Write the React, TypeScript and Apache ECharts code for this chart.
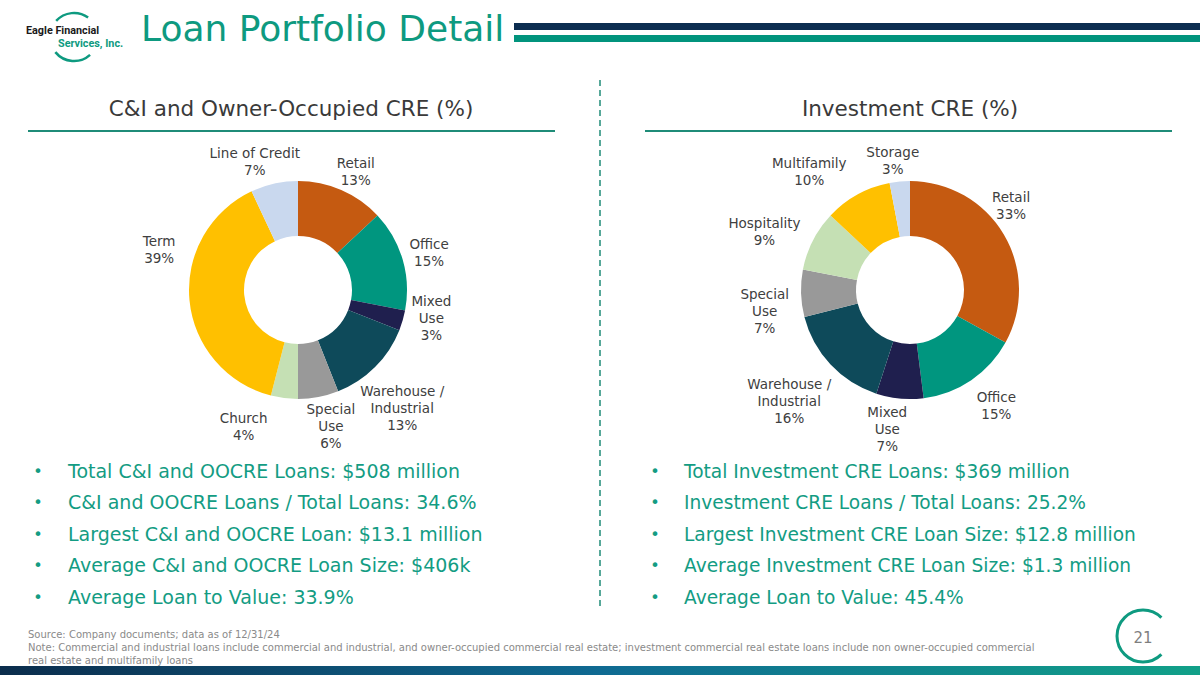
import React, { useEffect, useRef } from "react";
import * as echarts from "echarts";

const ciCategories = ["Retail", "Office", "Mixed\nUse", "Warehouse /\nIndustrial", "Special\nUse", "Church", "Term", "Line of Credit"];
const ciValues = [13, 15, 3, 13, 6, 4, 39, 7];
const creCategories = ["Retail", "Office", "Mixed\nUse", "Warehouse /\nIndustrial", "Special\nUse", "Hospitality", "Multifamily", "Storage"];
const creValues = [33, 15, 7, 16, 7, 9, 10, 3];

const ciColors = ["#C55A11", "#00967F", "#1F1F4E", "#0E4A5A", "#999999", "#C5E0B4", "#FFC000", "#C9D8EE"];
const creColors = ["#C55A11", "#00967F", "#1F1F4E", "#0E4A5A", "#999999", "#C5E0B4", "#FFC000", "#C9D8EE"];

const ciTitle = "C&I and Owner-Occupied CRE (%)";
const creTitle = "Investment CRE (%)";
const ciBullets = [
  "Total C&I and OOCRE Loans: $508 million",
  "C&I and OOCRE Loans / Total Loans: 34.6%",
  "Largest C&I and OOCRE Loan: $13.1 million",
  "Average C&I and OOCRE Loan Size: $406k",
  "Average Loan to Value: 33.9%",
];
const creBullets = [
  "Total Investment CRE Loans: $369 million",
  "Investment CRE Loans / Total Loans: 25.2%",
  "Largest Investment CRE Loan Size: $12.8 million",
  "Average Investment CRE Loan Size: $1.3 million",
  "Average Loan to Value: 45.4%",
];
const footnotes = [
  "Source: Company documents; data as of 12/31/24",
  "Note: Commercial and industrial loans include commercial and industrial, and owner-occupied commercial real estate; investment commercial real estate loans include non owner-occupied commercial",
  "real estate and multifamily loans",
];

// label placement nudges (layout only, in px), matching the slide's hand-placed labels
const ciLabelNudge = [[-12, -13], [-4, -5], [-2, -4], [-24, 37], [-18, 23], [-11, 22], [-3, -51], [32, -16]];
const creLabelNudge = [[-22, -26], [-3, 20], [13, 25], [10, 32], [-1, 17], [-2, -6], [-3, -18], [25, -15]];

const FONT = "'DejaVu Sans', 'Noto Sans', sans-serif";
const TEAL = "#0E9A80";
const TEXT_TEAL = "#139C83";

function labelFormatter(p: any) {
  const lines = String(p.name).split("\n").concat([p.value + "%"]);
  return lines.map((l) => "{c|" + l + "}").join("\n");
}

function makePie(data: string[], values: number[], colors: string[], center: number[], nudge: number[][]) {
  return {
    type: "pie",
    center,
    radius: [54, 109],
    startAngle: 90,
    clockwise: true,
    avoidLabelOverlap: false,
    data: data.map((n, i) => ({ name: n, value: values[i], itemStyle: { color: colors[i] } })),
    itemStyle: { borderWidth: 0 },
    label: {
      show: true,
      position: "outside",
      formatter: labelFormatter,
      rich: {
        c: { align: "center", fontSize: 13.5, lineHeight: 17, color: "#404040", fontFamily: FONT },
      },
    },
    labelLine: { show: false, length: 6, length2: 0 },
    labelLayout: (p: any) => ({ dx: nudge[p.dataIndex][0], dy: nudge[p.dataIndex][1], hideOverlap: false }),
    emphasis: { disabled: true },
  };
}

export default function App() {
  const ref = useRef<HTMLDivElement>(null);
  useEffect(() => {
    if (!ref.current) return;
    const chart = echarts.init(ref.current, null, { renderer: "svg" });
    const graphics: any[] = [];
    // header logo
    graphics.push({ type: "arc", shape: { cx: 74, cy: 37, r: 24, startAngle: (-138 * Math.PI) / 180, endAngle: (-54 * Math.PI) / 180, clockwise: true }, style: { stroke: TEAL, lineWidth: 2.5, fill: "none" } });
    graphics.push({ type: "arc", shape: { cx: 74, cy: 37, r: 24, startAngle: (48 * Math.PI) / 180, endAngle: (141 * Math.PI) / 180, clockwise: true }, style: { stroke: TEAL, lineWidth: 2.5, fill: "none" } });
    graphics.push({ type: "text", x: 26, y: 30.5, style: { text: "Eagle Financial", font: "bold 10.8px Roboto, sans-serif", fill: "#1a1a1a", verticalAlign: "middle" } });
    graphics.push({ type: "text", x: 58, y: 43, style: { text: "Services, Inc.", font: "bold 10.8px Roboto, sans-serif", fill: TEAL, verticalAlign: "middle" } });
    graphics.push({ type: "text", left: 141, top: 10, style: { text: "Loan Portfolio Detail", font: "36px " + FONT, fill: TEAL } });
    graphics.push({ type: "rect", shape: { x: 514, y: 23, width: 690, height: 7 }, style: { fill: "#0C2D50" } });
    graphics.push({ type: "rect", shape: { x: 514, y: 35, width: 690, height: 7 }, style: { fill: "#01947D" } });
    // section titles
    graphics.push({ type: "text", x: 291, y: 108, style: { text: ciTitle, font: "21.5px " + FONT, fill: "#3a3a3a", align: "center", verticalAlign: "middle" } });
    graphics.push({ type: "text", x: 910, y: 108, style: { text: creTitle, font: "21.5px " + FONT, fill: "#3a3a3a", align: "center", verticalAlign: "middle" } });
    graphics.push({ type: "line", shape: { x1: 28, y1: 131, x2: 555, y2: 131 }, style: { stroke: "#1F8C78", lineWidth: 2 } });
    graphics.push({ type: "line", shape: { x1: 645, y1: 131, x2: 1172, y2: 131 }, style: { stroke: "#1F8C78", lineWidth: 2 } });
    // dashed divider
    graphics.push({ type: "line", shape: { x1: 600, y1: 80, x2: 600, y2: 607 }, style: { stroke: "#1F8C78", lineWidth: 1.5, lineDash: [6, 4] } });
    // bullets
    const rowY = [471, 502, 534, 565, 597];
    ciBullets.forEach((t, i) => {
      graphics.push({ type: "text", x: 38, y: rowY[i], style: { text: "•", font: "16px " + FONT, fill: TEXT_TEAL, align: "center", verticalAlign: "middle" } });
      graphics.push({ type: "text", x: 68, y: rowY[i], style: { text: t, font: "19px " + FONT, fill: TEXT_TEAL, verticalAlign: "middle" } });
    });
    creBullets.forEach((t, i) => {
      graphics.push({ type: "text", x: 655, y: rowY[i], style: { text: "•", font: "16px " + FONT, fill: TEXT_TEAL, align: "center", verticalAlign: "middle" } });
      graphics.push({ type: "text", x: 684, y: rowY[i], style: { text: t, font: "18.6px " + FONT, fill: TEXT_TEAL, verticalAlign: "middle" } });
    });
    // footnotes
    const fy = [634, 647, 660];
    footnotes.forEach((t, i) => {
      graphics.push({ type: "text", x: 28, y: fy[i], style: { text: t, font: "10px " + FONT, fill: "#8a8a8a", verticalAlign: "middle" } });
    });
    // page marker
    graphics.push({ type: "arc", shape: { cx: 1143, cy: 636, r: 26, startAngle: Math.PI / 4, endAngle: (7 * Math.PI) / 4, clockwise: true }, style: { stroke: TEAL, lineWidth: 3, fill: "none" } });
    graphics.push({ type: "text", x: 1143, y: 638, style: { text: "21", font: "15px " + FONT, fill: "#7f7f7f", align: "center", verticalAlign: "middle" } });
    // bottom bar
    graphics.push({
      type: "rect",
      shape: { x: 0, y: 666, width: 1200, height: 9 },
      style: {
        fill: new echarts.graphic.LinearGradient(0, 0, 1, 0, [
          { offset: 0, color: "#0B2D4C" },
          { offset: 0.5, color: "#0F6A92" },
          { offset: 1, color: "#11A088" },
        ]),
      },
    });

    chart.setOption({
      animation: false,
      backgroundColor: "#ffffff",
      graphic: graphics,
      series: [
        makePie(ciCategories, ciValues, ciColors, [298, 290], ciLabelNudge),
        makePie(creCategories, creValues, creColors, [910, 290], creLabelNudge),
      ],
    });
    return () => chart.dispose();
  }, []);
  return <div ref={ref} style={{ position: "fixed", left: 0, top: 0, width: 1200, height: 675 }} />;
}
